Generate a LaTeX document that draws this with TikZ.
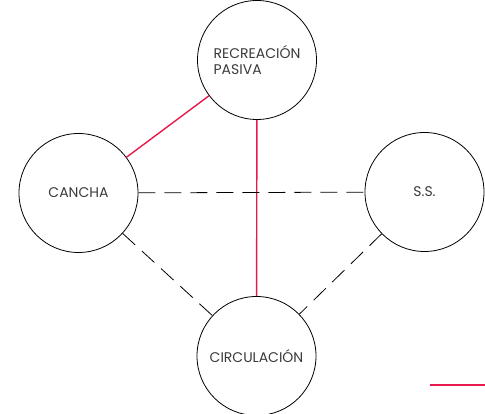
\documentclass[tikz,border=0pt]{standalone}
\usepackage{fontspec}
\setmainfont{Poppins}
\usepackage{tikz}
\usetikzlibrary{positioning}
\definecolor{linkred}{HTML}{E8194C}
\definecolor{labelgray}{HTML}{3A3A3A}
\tikzset{
  zone/.style={draw, circle, line width=0.8pt, minimum size=119pt, inner sep=0pt, align=left,
    text=labelgray, font=\fontsize{14}{16}\selectfont},
  strong/.style={draw=linkred, line width=1.4pt},
  weak/.style={draw, line width=0.8pt, dash pattern=on 17pt off 9pt}
}

\begin{document}
\begin{tikzpicture}[x=1pt, y=1pt]
    \useasboundingbox (0,0) rectangle (485,414);

    % Place nodes
    \node [zone] (recreacion) at (257,354) {RECREACIÓN\\PASIVA};
    \node [zone] (cancha) at (78.5,221) {CANCHA};
    \node [zone] (ss) at (424.5,222) {S.S.};
    \node [zone] (circulacion) at (256.5,58) {CIRCULACIÓN};
    \coordinate (legA) at (430,29);
    \coordinate (legB) at (485,29);

    % Draw edges
    \path [strong] (recreacion) -- (cancha);
    \path [strong] (recreacion) -- (circulacion);
    \path [weak] (cancha) -- (ss);
    \path [weak] (cancha) -- (circulacion);
    \path [weak] (ss) -- (circulacion);
    \path [strong] (legA) -- (legB);

\end{tikzpicture}
\end{document}
